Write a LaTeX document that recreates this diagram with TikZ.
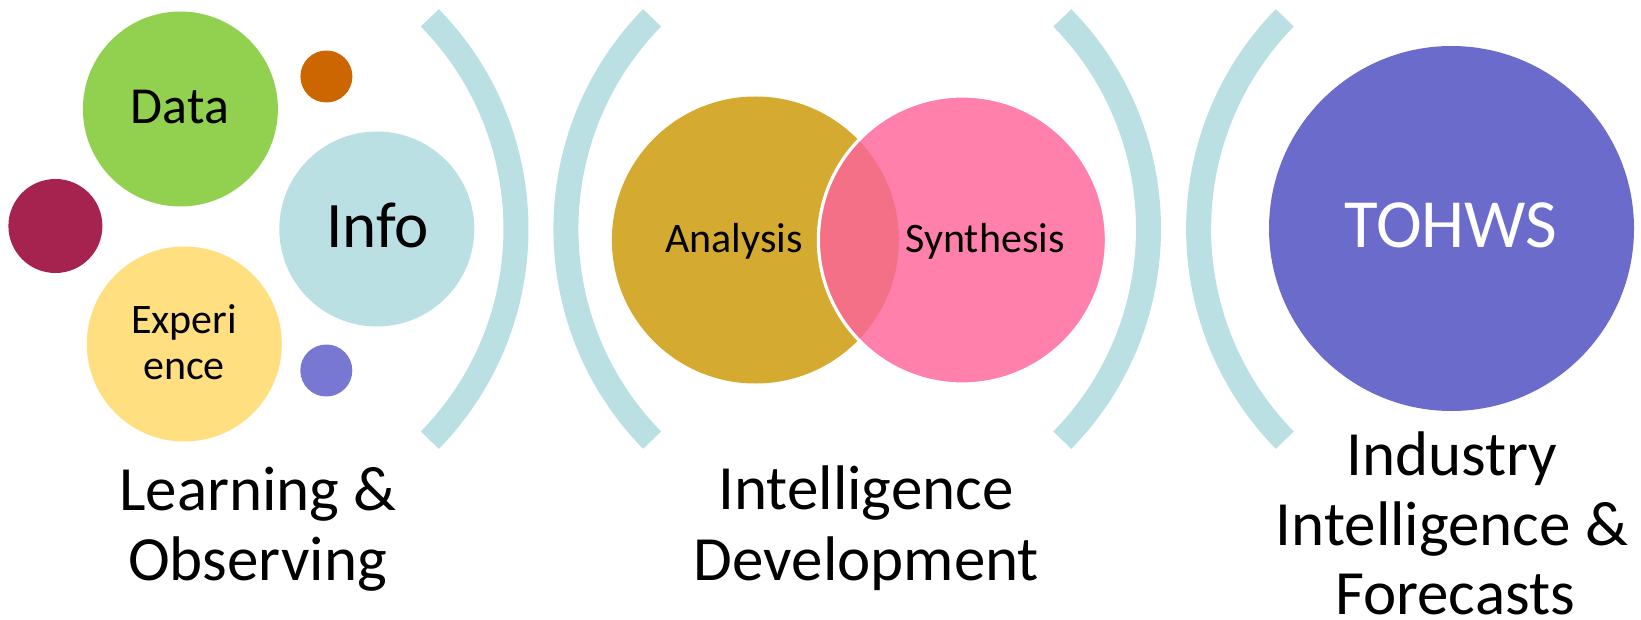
\documentclass[tikz,border=0pt]{standalone}
\usepackage{fontspec}
\setmainfont{Carlito}
\definecolor{cData}{HTML}{92D050}
\definecolor{cOrange}{HTML}{CC6600}
\definecolor{cInfo}{HTML}{BBE0E3}
\definecolor{cMaroon}{HTML}{A62350}
\definecolor{cExp}{HTML}{FFDF80}
\definecolor{cPurple}{HTML}{7878D3}
\definecolor{cGold}{HTML}{D4AA30}
\definecolor{cPink}{HTML}{FF80AA}
\definecolor{cLens}{HTML}{F47086}
\definecolor{cTohws}{HTML}{6B6BCC}
\begin{document}
\begin{tikzpicture}[x=0.5pt,y=-0.5pt,
  blob/.style={circle, inner sep=0pt, outer sep=0pt},
  bracketarc/.style={draw=cInfo, line width=12.5pt},
  lbl/.style={anchor=base, inner sep=0pt, outer sep=0pt, text=black},
  inner/.style={lbl, font=\fontsize{21pt}{25pt}\selectfont},
  caption/.style={lbl, font=\fontsize{31.5pt}{35pt}\selectfont}]
\useasboundingbox[fill=white] (0,0) rectangle (1641,620);

% left group
\node[blob, fill=cData, minimum size=97.5pt] (data) at (180.4,109) {};
\node[blob, fill=cOrange, minimum size=26pt] (orange) at (326.4,76.5) {};
\node[blob, fill=cInfo, minimum size=97.5pt] (info) at (376.8,229) {};
\node[blob, fill=cMaroon, minimum size=47pt] (maroon) at (55.4,226) {};
\node[blob, fill=cExp, minimum size=97.5pt] (exper) at (184.3,344) {};
\node[blob, fill=cPurple, minimum size=26pt] (purple) at (326.3,370.5) {};

\node[lbl, font=\fontsize{26pt}{30pt}\selectfont] (tdata) at (180,124) {Data};
\node[lbl, font=\fontsize{32.5pt}{36pt}\selectfont] (tinfo) at (377.5,247) {Info};
\node[inner] (texp1) at (184,333) {Experi};
\node[inner] (texp2) at (184,379) {ence};

% brackets
\coordinate (c1) at (214.2,229);
\coordinate (c2) at (867.7,229);
\coordinate (c3) at (846.7,229);
\coordinate (c4) at (1500.4,229);
\draw[bracketarc] ([shift={(-44.4:301.8)}]c1) arc[start angle=-44.4, end angle=44.4, radius=301.8];
\draw[bracketarc] ([shift={(135.6:301.8)}]c2) arc[start angle=135.6, end angle=224.4, radius=301.8];
\draw[bracketarc] ([shift={(-44.4:301.8)}]c3) arc[start angle=-44.4, end angle=44.4, radius=301.8];
\draw[bracketarc] ([shift={(135.6:301.8)}]c4) arc[start angle=135.6, end angle=224.4, radius=301.8];

% middle group
\node[blob, fill=cGold, minimum size=143.5pt] (ana) at (755.4,240) {};
\node[blob, fill=cPink, minimum size=143pt] (syn) at (962.4,240) {};
\begin{scope}
  \clip (ana.center) circle [radius=143.5];
  \fill[cLens] (syn.center) circle [radius=143];
\end{scope}
\draw[white, line width=1.6pt] (syn.center) circle [radius=144];
\node[inner] (tana) at (734,252) {Analysis};
\node[inner] (tsyn) at (985,252) {Synthesis};

% right group
\node[blob, fill=cTohws, minimum size=182.5pt] (tohws) at (1451.5,228.5) {};
\node[lbl, text=white, font=\fontsize{34.5pt}{40pt}\selectfont] (ttohws) at (1451,248) {TOHWS};

% captions
\node[caption] (cap1a) at (258,510) {Learning \&};
\node[caption] (cap1b) at (257.5,580) {Observing};
\node[caption] (cap2a) at (866,509) {Intelligence};
\node[caption] (cap2b) at (866.5,580) {Development};
\node[caption] (cap3a) at (1452,475) {Industry};
\node[caption] (cap3b) at (1452,545) {Intelligence \&};
\node[caption] (cap3c) at (1455,614) {Forecasts};
\end{tikzpicture}
\end{document}
